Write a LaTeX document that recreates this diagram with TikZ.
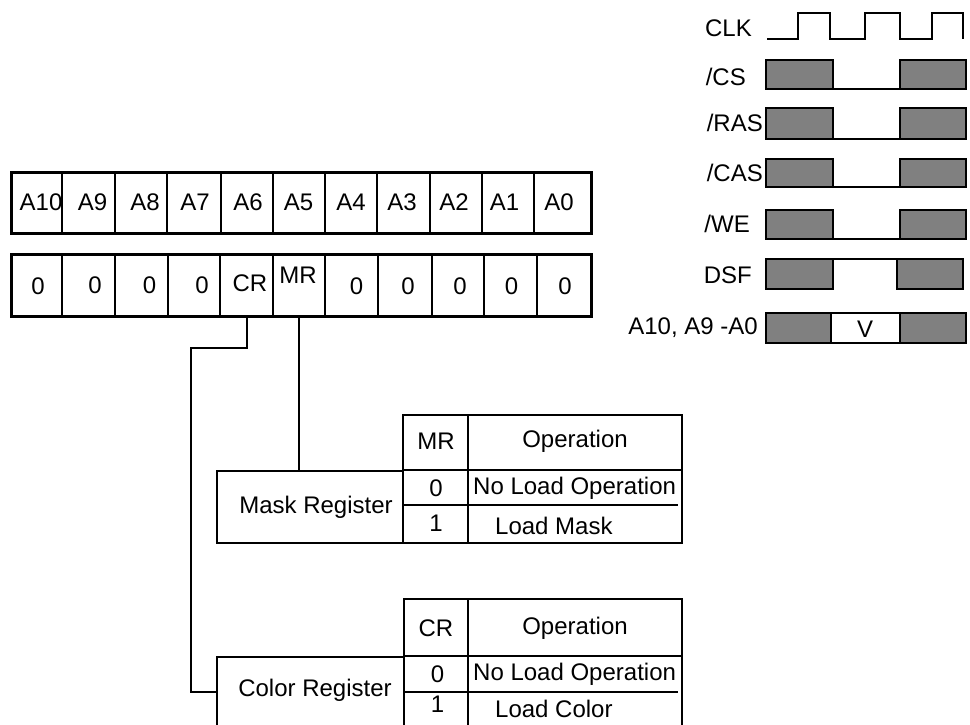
\documentclass[tikz,border=0pt]{standalone}
\usepackage{fontspec}
\setmainfont{Liberation Sans}
\definecolor{sig}{RGB}{128,128,128}
\begin{document}
\begin{tikzpicture}[x=1pt,y=-1pt,
  lbl/.style={font=\fontsize{24}{28}\selectfont, inner sep=0pt},
  cellnode/.style={draw, line width=1.6pt, inner sep=0pt},
  frame/.style={draw, line width=2pt},
  conn/.style={line width=2pt},
  wave/.style={line width=2pt},
  hi/.style={draw, line width=2pt, fill=sig},
  lo/.style={draw, line width=2pt, fill=white}]
\useasboundingbox (0,0) rectangle (970,725);

% ---- address row 1
\foreach \a/\b/\t/\tx [count=\i] in {12/62/A10/41, 62/115/A9/92.5, 115/167/A8/145, 167/221/A7/195, 221/273/A6/248, 273/325/A5/298.5, 325/377/A4/351, 377/430/A3/402, 430/482/A2/454, 482/534/A1/504.5, 534/591/A0/559} {
  \node[cellnode, minimum width={(\b-\a)*1pt}, minimum height=60pt] (a\i) at ({(\a+\b)/2},203) {};
  \node[lbl] (at\i) at (\tx,202) {\t};
}
\draw[frame] (a1.north west) rectangle (a11.south east);

% ---- address row 2
\foreach \a/\b/\t/\tx/\ty [count=\i] in {12/62/0/38/286, 62/115/0/95/285, 115/168/0/149.5/285, 168/220/0/202/285, 220/273/CR/250/283, 273/325/MR/298/275, 325/378/0/356.5/286, 378/432/0/408/286, 432/484/0/460/286, 484/537/0/511.5/286, 537/591/0/565/286} {
  \node[cellnode, minimum width={(\b-\a)*1pt}, minimum height=61pt] (b\i) at ({(\a+\b)/2},285.5) {};
  \node[lbl] (bt\i) at (\tx,\ty) {\t};
}
\draw[frame] (b1.north west) rectangle (b11.south east);

% ---- mask register table
\node[frame, inner sep=0pt, minimum width=186pt, minimum height=72pt] (mreg) at (310,507) {};
\node[lbl] (mregt) at (316,507) {Mask Register};
\node[frame, inner sep=0pt, minimum width=279pt, minimum height=128pt] (mtab) at (542.5,479) {};
\draw[conn] (468,415) -- (468,543);
\draw[conn] (mreg.north east) -- (mreg.north east -| mtab.east);
\draw[conn] (403,505) -- (678,505);
\node[lbl] (mrh) at (436,441) {MR};
\node[lbl] (mop) at (575,441) {Operation};
\node[lbl] (m0) at (436,488) {0};
\node[lbl] (m1) at (436,523) {1};
\node[lbl, anchor=west] (mnl) at (473,488) {No Load Operation};
\node[lbl, anchor=west] (mlm) at (495,526) {Load Mask};

% ---- color register table
\node[frame, inner sep=0pt, minimum width=187pt, minimum height=70pt] (creg) at (310.5,692) {};
\node[lbl] (cregt) at (315,690) {Color Register};
\node[frame, inner sep=0pt, minimum width=278pt, minimum height=140pt] (ctab) at (543,669) {};
\draw[conn] (468,599) -- (468,740);
\draw[conn] (creg.north east) -- (creg.north east -| ctab.east);
\draw[conn] (404,692) -- (678,692);
\node[lbl] (crh) at (436,628) {CR};
\node[lbl] (cop) at (575,628) {Operation};
\node[lbl] (c0) at (437.5,674) {0};
\node[lbl] (c1) at (437.5,704) {1};
\node[lbl, anchor=west] (cnl) at (473,674) {No Load Operation};
\node[lbl, anchor=west] (clc) at (495,709) {Load Color};

% ---- connectors
\coordinate (cbend) at (191,348);
\draw[conn] (b5.south) |- (cbend) |- (creg.west);
\draw[conn] (b6.south) -- (b6.south |- mreg.north);

% ---- timing diagram
\node[lbl, anchor=east] (lclk) at (752,28) {CLK};
\draw[wave] (767,39) -- (798,39) -- (798,13) -- (830,13) -- (830,39) -- (865,39) -- (865,13) -- (900,13) -- (900,39) -- (932,39) -- (932,13) -- (963,13) -- (963,39);

\node[lbl, anchor=east] (lcs) at (746,77) {/CS};
\draw[hi] (766,60) rectangle (833,89);
\draw[hi] (900,60) rectangle (966,89);
\draw[wave] (833,89) -- (900,89);

\node[lbl, anchor=east] (lras) at (763,123) {/RAS};
\draw[hi] (766,108) rectangle (833,139);
\draw[hi] (900,108) rectangle (966,139);
\draw[wave] (833,139) -- (900,139);

\node[lbl, anchor=east] (lcas) at (763,173) {/CAS};
\draw[hi] (766,159) rectangle (833,187);
\draw[hi] (900,159) rectangle (966,187);
\draw[wave] (833,187) -- (900,187);

\node[lbl, anchor=east] (lwe) at (750,224) {/WE};
\draw[hi] (766,210) rectangle (833,239);
\draw[hi] (900,210) rectangle (966,239);
\draw[wave] (833,239) -- (900,239);

\node[lbl, anchor=east] (ldsf) at (752,275) {DSF};
\draw[hi] (766,259) rectangle (833,289);
\draw[hi] (897,259) rectangle (963,289);
\draw[wave] (833,259) -- (897,259);

\node[lbl, anchor=east] (laddr) at (758,328) {A10, A9 -A0};
\draw[hi] (766,313) rectangle (831,343);
\draw[lo] (831,313) rectangle (900,343);
\draw[hi] (900,313) rectangle (966,343);
\node[lbl] (vv) at (865,329) {V};
\end{tikzpicture}
\end{document}
